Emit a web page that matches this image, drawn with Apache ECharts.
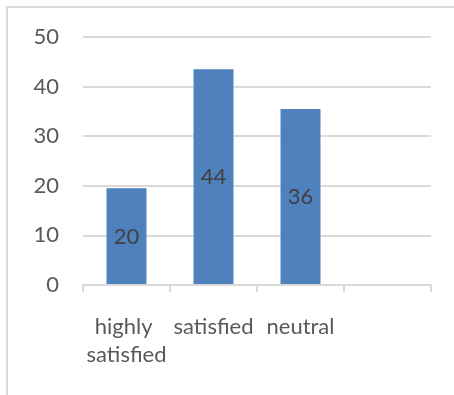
<!DOCTYPE html>
<html>
<head>
<meta charset="utf-8">
<script src="https://cdn.jsdelivr.net/npm/echarts@6/dist/echarts.min.js"></script>
<style>
  html, body { margin: 0; padding: 0; background: #fff; }
  #main { width: 454px; height: 395px; }
</style>
</head>
<body>
<div id="main"></div>
<script>
// categories and values
const categories = ['highly satisfied', 'satisfied', 'neutral', ''];
const values = [19.5, 43.5, 35.5, null];
const yTicks = [0, 10, 20, 30, 40, 50];

const font = 'Lato, "Open Sans", sans-serif';
const chart = echarts.init(document.getElementById('main'));

const option = {
    animation: false,
    // grey frame round the chart area
    graphic: [{
        type: 'rect',
        shape: { x: 7, y: 7, width: 460, height: 400 },
        style: { fill: 'none', stroke: '#d9d9d9', lineWidth: 2 },
        silent: true
    }],
    grid: { left: 83, right: 23, top: 37, bottom: 110 },
    xAxis: {
        type: 'category',
        data: categories,
        z: 5,
        axisLine: { lineStyle: { color: '#d9d9d9', width: 2 } },
        axisTick: { show: true, length: 7, lineStyle: { color: '#d9d9d9', width: 2 } },
        axisLabel: {
            interval: 0,
            margin: 28,
            width: 90,
            overflow: 'break',
            lineHeight: 28,
            color: '#595959',
            fontSize: 22,
            fontFamily: font
        }
    },
    yAxis: {
        type: 'value',
        min: yTicks[0],
        max: yTicks[yTicks.length - 1],
        interval: 10,
        axisLine: { show: false },
        axisTick: { show: false },
        axisLabel: { margin: 24, color: '#595959', fontSize: 22, fontFamily: font },
        splitLine: { lineStyle: { color: '#d9d9d9', width: 2 } }
    },
    series: [
        {
            // white halo that breaks the gridlines round each bar
            type: 'bar',
            data: values,
            barWidth: 40,
            silent: true,
            z: 1,
            itemStyle: { color: '#fff', borderColor: '#fff', borderWidth: 9 }
        },
        {
            type: 'bar',
            data: values,
            barWidth: 40,
            barGap: '-100%',
            z: 2,
            itemStyle: { color: '#4f81bd' },
            label: {
                show: true,
                position: 'inside',
                color: '#404040',
                fontSize: 22,
                fontFamily: font,
                formatter: p => Math.round(p.value)
            }
        }
    ]
};
chart.setOption(option);
</script>
</body>
</html>
